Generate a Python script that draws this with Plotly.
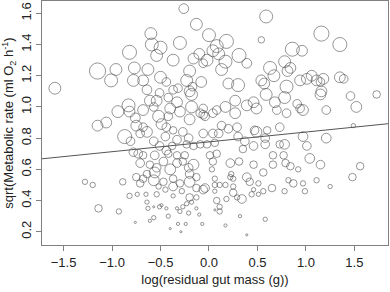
import plotly.graph_objects as go

# log(residual gut mass), sqrt(metabolic rate), relative body mass (marker scale)
gut = [-0.26,-0.13,0.00,-0.60,-0.59,-0.50,-0.54,-0.30,-0.82,-0.16,-0.10,0.04,0.59,0.54,1.16,1.35,0.86,0.96,0.18,0.08,
       0.31,0.10,-0.37,-0.02,-0.06,-1.15,-0.96,-1.01,-0.77,-0.63,-0.78,-0.68,-0.50,-0.20,-0.23,-0.08,-0.17,-1.59,-0.44,-0.64,
       -0.37,0.39,0.17,0.13,0.63,0.67,0.78,0.84,0.81,0.54,0.57,0.20,0.30,0.80,0.94,1.01,1.06,1.11,1.18,1.15,
       1.35,1.39,1.15,1.16,-0.18,-0.61,-0.54,-0.32,-0.20,-0.51,-0.42,-0.33,-0.83,-0.94,-0.82,-0.68,-0.52,-0.40,-0.18,-0.06,
       -0.06,0.04,-0.30,-0.57,-0.76,-1.15,-1.06,0.27,0.39,0.46,0.49,0.59,0.68,0.70,0.78,0.80,0.91,0.94,0.97,1.21,
       1.46,1.52,1.73,0.17,0.27,-0.04,-0.42,-0.49,-0.20,-0.09,0.08,-0.75,-0.68,0.13,0.20,0.29,0.47,0.60,0.73,1.49,
       -0.87,-0.81,-0.71,-0.64,-0.57,-0.51,-0.56,-0.44,-0.38,-0.33,-0.23,-0.16,-0.09,-0.02,0.06,0.04,-0.06,-0.27,-0.44,-0.37,
       -0.45,-0.21,-0.78,-0.73,-0.68,-0.42,-0.33,-0.25,0.01,0.49,0.10,0.30,0.37,0.58,0.97,1.21,0.46,0.58,0.73,0.78,
       1.01,0.35,0.66,0.77,1.04,0.08,1.15,1.56,0.04,0.22,0.31,0.46,0.66,0.79,0.84,0.92,0.03,0.56,0.23,0.22,
       0.06,0.25,0.39,0.42,0.51,0.82,0.87,0.97,1.11,1.48,1.25,0.06,0.11,0.17,-0.06,0.06,0.25,0.46,0.56,0.65,
       0.78,0.99,0.25,0.29,0.34,0.44,0.51,0.18,0.08,0.11,0.11,0.06,0.32,0.58,0.17,-0.07,0.39,-0.71,-0.64,-0.54,
       -0.47,-0.40,-0.33,-0.27,-0.16,-0.21,-0.61,-0.56,-0.20,-0.75,-0.57,-0.68,-0.71,-0.47,-0.37,-0.37,-0.20,-0.13,-0.28,-0.52,
       -0.45,-1.28,-1.20,-0.89,-0.82,-0.74,-0.65,-0.54,-0.37,-0.20,-0.13,-0.64,-0.63,-0.57,-0.51,-0.44,-0.33,-0.27,-0.30,-0.23,
       -0.21,-0.13,-1.14,-0.93,-0.57,-0.42,-0.10,-0.76,-0.61,-0.32,-0.24,-0.40,-0.29,-0.30,-0.13,-0.04,-0.49,-0.18]
rate = [1.63,1.53,1.46,1.47,1.40,1.38,1.33,1.41,1.35,1.31,1.34,1.36,1.58,1.43,1.47,1.40,1.37,1.36,1.42,1.39,
        1.33,1.34,1.30,1.30,1.28,1.23,1.24,1.17,1.25,1.24,1.17,1.17,1.19,1.23,1.17,1.16,1.13,1.12,1.16,1.11,
        1.11,1.28,1.29,1.24,1.25,1.20,1.29,1.25,1.23,1.17,1.15,1.15,1.14,1.13,1.17,1.18,1.20,1.17,1.18,1.16,
        1.19,1.18,1.08,1.10,1.08,1.04,1.04,1.12,1.10,1.09,1.06,1.03,1.01,0.97,0.97,0.98,0.94,0.99,1.00,0.99,
        0.95,0.96,0.97,1.00,0.93,0.88,0.90,1.04,1.01,1.03,0.99,1.08,1.03,0.98,1.06,0.96,1.02,0.99,0.98,0.98,
        1.07,1.00,1.08,1.00,0.96,0.94,0.94,0.89,0.92,0.96,0.98,0.88,0.87,0.88,0.86,0.87,0.85,0.85,0.87,0.88,
        0.81,0.78,0.83,0.84,0.78,0.75,0.69,0.72,0.75,0.79,0.76,0.75,0.76,0.76,0.77,0.83,0.83,0.84,0.87,0.85,
        0.81,0.80,0.71,0.70,0.69,0.70,0.69,0.69,0.69,0.84,0.83,0.81,0.78,0.80,0.81,0.80,0.75,0.76,0.76,0.76,
        0.75,0.73,0.69,0.69,0.67,0.70,0.63,0.62,0.65,0.64,0.65,0.63,0.63,0.64,0.62,0.60,0.60,0.58,0.57,0.55,
        0.54,0.54,0.55,0.52,0.51,0.53,0.51,0.51,0.53,0.55,0.49,0.50,0.50,0.50,0.47,0.46,0.49,0.47,0.46,0.48,
        0.46,0.46,0.45,0.42,0.41,0.44,0.44,0.41,0.40,0.36,0.33,0.34,0.30,0.28,0.24,0.25,0.18,0.64,0.57,0.61,
        0.65,0.60,0.64,0.65,0.63,0.61,0.63,0.58,0.57,0.55,0.53,0.54,0.51,0.52,0.54,0.49,0.52,0.48,0.46,0.49,
        0.47,0.52,0.50,0.52,0.43,0.44,0.44,0.44,0.43,0.42,0.42,0.39,0.35,0.36,0.36,0.35,0.35,0.36,0.33,0.38,
        0.32,0.35,0.35,0.33,0.29,0.30,0.31,0.26,0.27,0.25,0.25,0.22,0.20,0.51,0.55,0.48,0.37,0.39]
mass = [9,11,12,11,12,12,11,12,13,10,10,11,12,6,14,13,13,10,13,12,
        13,11,11,11,8,15,11,12,11,11,11,10,11,11,11,10,8,11,8,9,
        8,9,12,11,12,11,11,10,10,10,10,10,12,12,10,10,10,10,10,8,
        10,8,10,10,11,10,10,8,10,8,8,10,12,11,10,10,11,10,11,8,
        8,8,10,8,9,10,10,10,10,10,10,11,10,8,11,8,8,8,10,8,
        8,10,7,10,10,8,8,10,10,8,8,10,8,8,8,8,8,7,8,4,
        13,8,8,10,8,8,8,8,7,8,7,7,7,7,7,8,8,8,8,7,
        8,8,8,8,7,7,7,7,7,10,8,8,8,8,9,9,8,8,7,9,
        8,7,7,7,9,7,8,7,7,8,7,7,7,7,7,5,5,7,5,5,
        5,5,8,7,5,5,7,5,5,7,4,5,5,5,8,4,5,4,5,7,
        5,5,7,5,8,5,4,5,6,5,5,2,3,4,3,3,2,8,7,8,
        8,10,8,7,10,8,7,10,8,7,10,7,7,7,7,8,10,7,5,5,
        5,5,5,6,5,4,4,5,4,7,5,4,4,2,4,3,3,4,4,4,
        4,3,7,5,4,4,3,2,3,3,3,2,2,7,7,8,3,4]

# fitted regression line
intercept = 0.776
slope = 0.063

x_range = [-1.723, 1.847]
y_range = [0.115, 1.679]
x_ticks = [-1.5, -1.0, -0.5, 0.0, 0.5, 1.0, 1.5]
y_ticks = [0.2, 0.4, 0.6, 0.8, 1.0, 1.2, 1.4, 1.6]

fig = go.Figure()
fig.add_trace(go.Scatter(
    x=gut, y=rate, mode="markers",
    marker=dict(symbol="circle-open", size=[m * 1.08 for m in mass], sizemode="diameter",
                color="#444444", line=dict(width=0.8, color="#444444")),
    hoverinfo="skip", showlegend=False))
fig.add_trace(go.Scatter(
    x=x_range, y=[intercept + slope * v for v in x_range], mode="lines",
    line=dict(color="#555555", width=1), hoverinfo="skip", showlegend=False))

font = "Liberation Sans, Arial, sans-serif"
axis_common = dict(showline=True, mirror=True, linecolor="#808080", linewidth=1,
                   ticks="outside", ticklen=5, tickcolor="#808080", tickwidth=1,
                   showgrid=False, zeroline=False,
                   tickfont=dict(family=font, size=13, color="#222222"))
fig.update_layout(
    width=390, height=292,
    margin=dict(l=42, r=2, t=1, b=47),
    paper_bgcolor="white", plot_bgcolor="white",
    xaxis=dict(range=x_range, tickvals=x_ticks, tickformat=".1f",
               title=dict(text="log(residual gut mass (g))", standoff=6,
                          font=dict(family=font, size=13, color="#222222")),
               **axis_common),
    yaxis=dict(range=y_range, tickvals=y_ticks, tickformat=".1f", tickangle=-90,
               title=dict(text="sqrt(Metabolic rate (ml O<sub>2</sub> h<sup>-1</sup>)", standoff=4,
                          font=dict(family=font, size=13, color="#222222")),
               **axis_common),
)
fig.write_html("out.html")
